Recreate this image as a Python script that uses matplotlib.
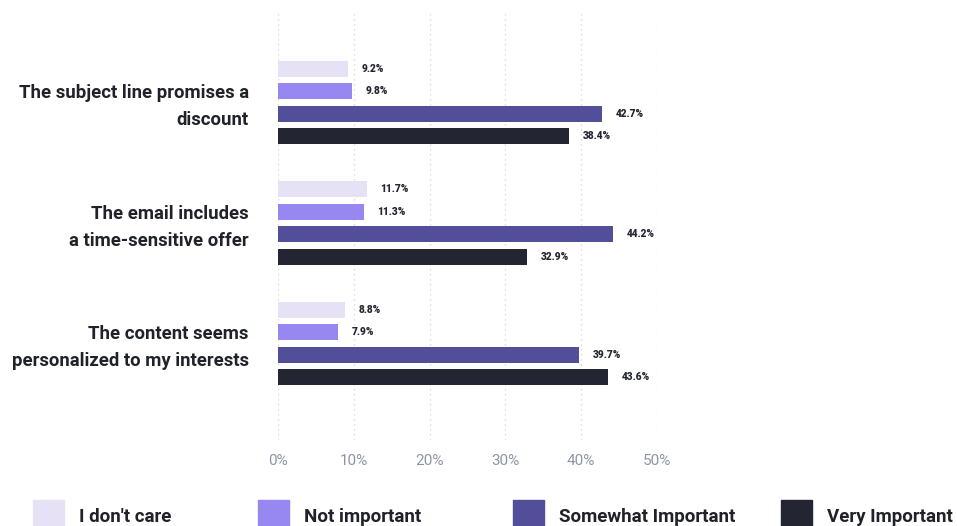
import numpy as np
import matplotlib
matplotlib.use('Agg')
import matplotlib.pyplot as plt
from matplotlib.patches import Rectangle

categories = ['The subject line promises a\ndiscount',
              'The email includes\na time-sensitive offer',
              'The content seems\npersonalized to my interests']
series = ["I don't care", 'Not important', 'Somewhat Important', 'Very Important']
dont_care = [9.2, 11.7, 8.8]
not_important = [9.8, 11.3, 7.9]
somewhat = [42.7, 44.2, 39.7]
very = [38.4, 32.9, 43.6]
colors = ['#E6E1F5', '#9787F0', '#524E9A', '#232533']
xticks = [0, 10, 20, 30, 40, 50]

plt.rcParams['font.family'] = ['Roboto', 'DejaVu Sans']

fig = plt.figure(figsize=(9.57, 5.26), dpi=100)
ax = fig.add_axes([278/957, 1 - 440/526, 379/957, 428/526])

y = np.arange(len(categories))
step = 0.187
bh = 0.132
for k, vals in enumerate([dont_care, not_important, somewhat, very]):
    pos = y + (k - 1.5) * step
    ax.barh(pos, vals, height=bh, color=colors[k], zorder=3)
    for p, v in zip(pos, vals):
        ax.text(v + 1.8, p, f'{v}%', va='center', ha='left',
                fontsize=7.3, fontweight='heavy', color='#23252f')

ax.set_xlim(0, 50)
ax.set_ylim(2.80, -0.75)
ax.set_xticks(xticks)
ax.set_xticklabels([f'{t}%' for t in xticks], fontsize=11, color='#8c96a3')
ax.set_yticks(y - 0.02)
ax.set_yticklabels(categories, fontsize=13.3, fontweight='bold', color='#1f2329',
                   linespacing=1.65)
ax.tick_params(axis='both', length=0)
ax.tick_params(axis='x', pad=10)
ax.tick_params(axis='y', pad=21)
for s in ax.spines.values():
    s.set_visible(False)
ax.grid(axis='x', linestyle=(0, (1, 3)), color='#cfd3d8', linewidth=0.9, zorder=0)

# legend along the bottom
patch_x = [33, 258, 513, 781]
for px, name, c in zip(patch_x, series, colors):
    fig.add_artist(Rectangle((px/957, 0), 31/957, 26/526, color=c,
                             transform=fig.transFigure))
    fig.text((px + 46)/957, 9/526, name, fontsize=13.5, fontweight='bold',
             color='#1f2329', va='center', ha='left')

fig.savefig('out.png', dpi=100)
